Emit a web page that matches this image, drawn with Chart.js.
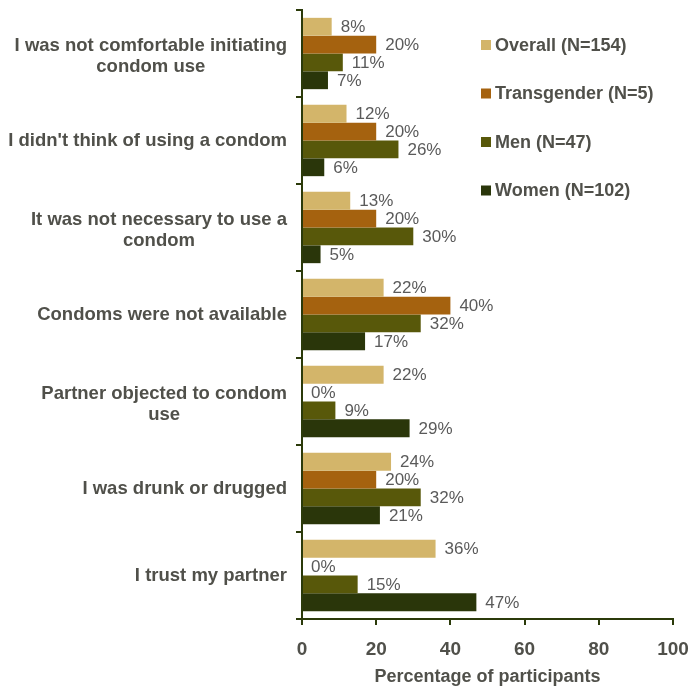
<!DOCTYPE html>
<html>
<head>
<meta charset="utf-8">
<script src="https://cdn.jsdelivr.net/npm/chart.js@4.4.1/dist/chart.umd.min.js"></script>
<style>
    html, body { margin: 0; padding: 0; background: #ffffff; }
    #wrap { width: 692px; height: 690px; }
</style>
</head>
<body>
<div id="wrap"><canvas id="reasonsChart" width="692" height="690"></canvas></div>
<script>
// ===== DATA =====
const categories = [
    ["I was not comfortable initiating", "condom use"],
    ["I didn't think of using a condom"],
    ["It was not necessary to use a", "condom"],
    ["Condoms were not available"],
    ["Partner objected to condom", "use"],
    ["I was drunk or drugged"],
    ["I trust my partner"]
];
const seriesNames = ["Overall (N=154)", "Transgender (N=5)", "Men (N=47)", "Women (N=102)"];
const overallValues = [8, 12, 13, 22, 22, 24, 36];
const transgenderValues = [20, 20, 20, 40, 0, 20, 0];
const menValues = [11, 26, 30, 32, 9, 32, 15];
const womenValues = [7, 6, 5, 17, 29, 21, 47];
const xTicks = [0, 20, 40, 60, 80, 100];

const seriesColors = ["#d3b56a", "#a5620f", "#58580a", "#2a360a"];
const axisColor = "#2b3a0a";
const textColor = "#50504a";
const labelFont = "'Liberation Sans', Arial, sans-serif";

// Value labels at the end of each bar
const valueLabels = {
    id: "valueLabels",
    afterDatasetsDraw(chart) {
        const ctx = chart.ctx;
        ctx.save();
        ctx.font = "17px " + labelFont;
        ctx.fillStyle = "#5a5a5a";
        ctx.textBaseline = "middle";
        ctx.textAlign = "left";
        chart.data.datasets.forEach((ds, i) => {
            const meta = chart.getDatasetMeta(i);
            meta.data.forEach((bar, j) => {
                ctx.fillText(ds.data[j] + "%", bar.x + 9, bar.y + 1);
            });
        });
        ctx.restore();
    }
};

// Category labels: block right-aligned to the axis, lines centred within block
const categoryLabels = {
    id: "categoryLabels",
    afterDraw(chart) {
        const ctx = chart.ctx;
        const yScale = chart.scales.y;
        const right = chart.chartArea.left - 15;
        const lineHeight = 21;
        ctx.save();
        ctx.font = "bold 18.5px " + labelFont;
        ctx.fillStyle = textColor;
        ctx.textBaseline = "middle";
        ctx.textAlign = "center";
        categories.forEach((lines, i) => {
            const maxW = Math.max(...lines.map((l) => ctx.measureText(l).width));
            const cx = right - maxW / 2;
            const cy = yScale.getPixelForValue(i);
            const startY = cy - ((lines.length - 1) * lineHeight) / 2 + (lines.length > 1 ? 3 : 0);
            lines.forEach((line, k) => {
                ctx.fillText(line, cx, startY + k * lineHeight);
            });
        });
        ctx.restore();
    }
};

// Legend drawn to the right inside the plot
const sideLegend = {
    id: "sideLegend",
    afterDraw(chart) {
        const ctx = chart.ctx;
        ctx.save();
        ctx.font = "bold 18px " + labelFont;
        ctx.textBaseline = "middle";
        ctx.textAlign = "left";
        chart.data.datasets.forEach((ds, i) => {
            const y = 45 + i * 48.5;
            ctx.fillStyle = ds.backgroundColor;
            ctx.fillRect(481, y - 5, 10, 10);
            ctx.fillStyle = textColor;
            ctx.fillText(ds.label, 495, y + 1);
        });
        ctx.restore();
    }
};

const seriesValues = [overallValues, transgenderValues, menValues, womenValues];

new Chart(document.getElementById("reasonsChart"), {
    type: "bar",
    data: {
        labels: categories.map((c) => c.join(" ")),
        datasets: seriesValues.map((vals, i) => ({
            label: seriesNames[i],
            data: vals,
            backgroundColor: seriesColors[i],
            barPercentage: 1.0,
            categoryPercentage: 0.82
        }))
    },
    options: {
        indexAxis: "y",
        responsive: false,
        animation: false,
        layout: { padding: { top: 10, right: 19, left: 0, bottom: 0 } },
        plugins: {
            legend: { display: false },
            tooltip: { enabled: false }
        },
        scales: {
            x: {
                min: 0,
                max: 100,
                afterBuildTicks: (scale) => {
                    scale.ticks = xTicks.map((v) => ({ value: v }));
                },
                afterFit: (scale) => {
                    scale.height = 71;
                    scale.paddingLeft = 0;
                    scale.paddingRight = 0;
                },
                border: { color: axisColor, width: 2 },
                grid: {
                    drawOnChartArea: false,
                    color: axisColor,
                    lineWidth: 2,
                    tickLength: 6
                },
                ticks: {
                    color: textColor,
                    font: { family: labelFont, size: 19, weight: "bold" },
                    padding: 13
                },
                title: {
                    display: true,
                    text: "Percentage of participants",
                    color: textColor,
                    font: { family: labelFont, size: 18, weight: "bold" },
                    padding: { top: 6, bottom: 2 }
                }
            },
            y: {
                afterFit: (scale) => { scale.width = 302; },
                border: { color: axisColor, width: 2 },
                grid: {
                    drawOnChartArea: false,
                    color: axisColor,
                    lineWidth: 2,
                    tickLength: 6,
                    offset: true
                },
                ticks: { display: false }
            }
        }
    },
    plugins: [valueLabels, categoryLabels, sideLegend]
});
</script>
</body>
</html>
